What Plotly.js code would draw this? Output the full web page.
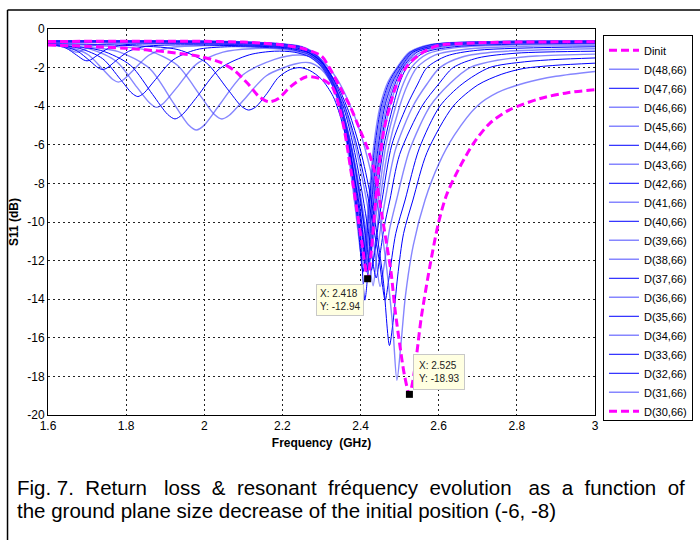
<!DOCTYPE html>
<html><head><meta charset="utf-8">
<script src="https://cdn.plot.ly/plotly-3.0.1.min.js"></script>
<style>html,body{margin:0;padding:0;background:#fff;}#chart{width:700px;height:540px;}</style>
</head><body><div id="chart"></div>
<script>
// ---------- axis ticks ----------
const freqTicks = [1.6, 1.8, 2, 2.2, 2.4, 2.6, 2.8, 3];
const freqTickText = ['1.6', '1.8', '2', '2.2', '2.4', '2.6', '2.8', '3'];
const s11Ticks = [0, -2, -4, -6, -8, -10, -12, -14, -16, -18, -20];
const s11TickText = ['0', '-2', '-4', '-6', '-8', '-10', '-12', '-14', '-16', '-18', '-20'];

// ---------- series (frequency GHz, S11 dB) ----------
const fDinit = [1.6,1.7,1.8,1.9,1.99,2.04,2.075,2.11,2.14,2.165,2.19,2.22,2.262,2.30,2.326,2.345,2.36,2.375,2.39,2.405,2.418,2.426,2.434,2.445,2.46,2.475,2.49,2.52,2.56,2.6,2.7,2.8,3.0];
const sDinit = [-0.83,-0.9,-1.0,-1.18,-1.43,-1.72,-2.12,-2.8,-3.5,-3.77,-3.6,-3.0,-2.47,-2.6,-2.95,-4.0,-5.4,-7.3,-9.3,-11.3,-12.94,-11.8,-10.0,-7.5,-5.2,-4.0,-3.0,-1.9,-1.2,-0.85,-0.72,-0.68,-0.66];

const fD48 = [1.6,1.8,2.0,2.1,2.2,2.25,2.285,2.31,2.34,2.362,2.38,2.393,2.404,2.411,2.416,2.421,2.434,2.45,2.47,2.493,2.525,2.58,2.75,3.0];
const sD48 = [-0.6,-0.6,-0.62,-0.66,-0.77,-0.92,-1.3,-2.0,-3.6,-5.6,-8.2,-10.4,-12.0,-11.1,-10.0,-8.86,-6.0,-4.0,-2.75,-2.0,-1.2,-0.8,-0.64,-0.6];
const fD47 = [1.6,1.8,2.0,2.1,2.2,2.25,2.285,2.315,2.345,2.366,2.383,2.395,2.406,2.413,2.418,2.423,2.437,2.453,2.473,2.495,2.528,2.585,2.75,3.0];
const sD47 = [-0.61,-0.61,-0.63,-0.67,-0.78,-0.93,-1.33,-2.15,-3.8,-5.8,-8.3,-10.5,-12.6,-11.6,-10.3,-8.86,-6.0,-4.0,-2.75,-2.0,-1.2,-0.8,-0.65,-0.62];
const fD46 = [1.6,1.8,2.0,2.1,2.2,2.25,2.29,2.32,2.35,2.37,2.385,2.397,2.408,2.415,2.42,2.425,2.44,2.456,2.476,2.497,2.53,2.59,2.75,3.0];
const sD46 = [-0.62,-0.62,-0.64,-0.68,-0.79,-0.95,-1.4,-2.25,-3.9,-5.9,-8.3,-10.3,-11.6,-10.8,-9.9,-8.86,-6.0,-4.0,-2.75,-2.0,-1.2,-0.82,-0.66,-0.63];
const fD45 = [1.6,1.8,2.0,2.1,2.2,2.25,2.29,2.32,2.35,2.37,2.387,2.399,2.41,2.417,2.422,2.427,2.443,2.459,2.479,2.5,2.532,2.59,2.75,3.0];
const sD45 = [-0.63,-0.63,-0.65,-0.7,-0.8,-0.96,-1.42,-2.3,-3.9,-5.9,-8.5,-10.6,-12.3,-11.3,-10.1,-8.86,-6.0,-4.0,-2.75,-2.0,-1.2,-0.83,-0.67,-0.64];
const fD44 = [1.6,1.8,2.0,2.1,2.2,2.25,2.29,2.32,2.35,2.37,2.388,2.4,2.411,2.418,2.424,2.429,2.446,2.462,2.482,2.503,2.535,2.6,2.75,3.0];
const sD44 = [-0.64,-0.64,-0.66,-0.71,-0.82,-0.98,-1.45,-2.35,-3.95,-6.0,-8.7,-11.0,-14.05,-12.8,-10.8,-8.86,-6.0,-4.0,-2.75,-2.0,-1.2,-0.84,-0.69,-0.65];
const fD43 = [1.6,1.8,2.0,2.1,2.2,2.25,2.29,2.32,2.35,2.372,2.39,2.403,2.413,2.42,2.426,2.431,2.449,2.466,2.486,2.505,2.54,2.6,2.75,3.0];
const sD43 = [-0.66,-0.66,-0.69,-0.74,-0.85,-1.02,-1.5,-2.4,-4.0,-6.3,-8.8,-10.6,-11.8,-11.0,-9.9,-8.86,-6.0,-4.0,-2.75,-2.0,-1.2,-0.86,-0.71,-0.67];
const fD42 = [1.6,1.8,2.0,2.1,2.2,2.25,2.29,2.32,2.35,2.373,2.392,2.405,2.415,2.423,2.429,2.434,2.452,2.47,2.49,2.508,2.545,2.61,2.75,3.0];
const sD42 = [-0.68,-0.68,-0.71,-0.76,-0.88,-1.05,-1.55,-2.45,-4.0,-6.2,-8.8,-10.8,-12.6,-11.6,-10.2,-8.86,-6.0,-4.0,-2.75,-2.0,-1.2,-0.88,-0.73,-0.69];
const fD41 = [1.6,1.8,2.0,2.1,2.2,2.25,2.29,2.32,2.35,2.375,2.395,2.407,2.417,2.425,2.431,2.437,2.455,2.475,2.495,2.512,2.55,2.62,2.75,3.0];
const sD41 = [-0.7,-0.7,-0.74,-0.8,-0.92,-1.1,-1.6,-2.5,-4.0,-6.2,-8.7,-10.6,-12.0,-11.2,-10.0,-8.86,-6.0,-4.0,-2.75,-2.0,-1.25,-0.9,-0.76,-0.71];
const fD40 = [1.6,1.8,1.933,2.005,2.059,2.095,2.113,2.131,2.16,2.19,2.22,2.245,2.27,2.30,2.33,2.355,2.378,2.398,2.419,2.427,2.433,2.44,2.46,2.483,2.50,2.518,2.56,2.64,3.0];
const sD40 = [-0.76,-0.85,-1.07,-1.75,-3.1,-4.0,-4.2,-4.05,-3.35,-2.5,-2.1,-2.0,-2.15,-2.6,-3.5,-5.0,-7.0,-9.3,-12.5,-11.5,-10.3,-8.86,-6.0,-4.0,-2.8,-2.0,-1.25,-0.92,-0.74];
const fD39 = [1.6,1.75,1.855,1.931,1.988,2.026,2.045,2.064,2.102,2.159,2.235,2.27,2.30,2.33,2.355,2.378,2.397,2.41,2.42,2.428,2.436,2.445,2.465,2.49,2.51,2.53,2.57,2.65,3.0];
const sD39 = [-0.78,-0.88,-1.11,-1.88,-3.4,-4.43,-4.66,-4.47,-3.65,-2.42,-1.8,-1.75,-2.1,-3.0,-4.4,-6.3,-8.4,-10.3,-12.2,-11.5,-10.2,-8.86,-6.0,-4.0,-2.8,-2.0,-1.3,-0.95,-0.78];
const fD38 = [1.6,1.7,1.78,1.86,1.92,1.96,1.98,2.0,2.04,2.1,2.18,2.24,2.275,2.30,2.33,2.355,2.378,2.395,2.41,2.423,2.432,2.441,2.45,2.47,2.5,2.52,2.544,2.59,2.68,3.0];
const sD38 = [-0.84,-0.95,-1.17,-2.05,-3.8,-4.97,-5.23,-4.98,-3.9,-2.36,-1.57,-1.35,-1.45,-1.9,-2.9,-4.3,-6.3,-8.3,-10.4,-12.9,-12.0,-10.5,-8.86,-6.3,-4.0,-2.9,-2.0,-1.35,-1.02,-0.85];
const fD37 = [1.6,1.735,1.811,1.868,1.906,1.925,1.944,1.982,2.039,2.115,2.18,2.23,2.27,2.30,2.33,2.355,2.378,2.397,2.412,2.427,2.436,2.445,2.455,2.48,2.518,2.545,2.57,2.62,2.7,3.0];
const sD37 = [-0.82,-1.11,-1.88,-3.4,-4.42,-4.66,-4.43,-3.5,-2.06,-1.34,-1.15,-1.2,-1.45,-1.95,-3.0,-4.4,-6.3,-8.5,-10.6,-12.5,-11.6,-10.2,-8.86,-6.0,-4.0,-2.9,-2.0,-1.4,-1.1,-0.92];
const fD36 = [1.6,1.708,1.776,1.827,1.861,1.878,1.895,1.929,1.98,2.048,2.12,2.2,2.25,2.29,2.32,2.35,2.375,2.395,2.414,2.432,2.44,2.45,2.463,2.49,2.534,2.57,2.603,2.66,2.75,3.0];
const sD36 = [-0.82,-1.04,-1.7,-3.0,-3.85,-4.06,-3.86,-3.05,-1.82,-1.2,-1.02,-1.05,-1.25,-1.75,-2.6,-4.0,-5.9,-8.0,-10.5,-13.3,-12.0,-10.5,-8.86,-6.2,-4.0,-2.85,-2.0,-1.45,-1.18,-1.02];
const fD35 = [1.6,1.68,1.74,1.785,1.815,1.83,1.845,1.875,1.92,1.98,2.06,2.15,2.22,2.27,2.30,2.33,2.36,2.385,2.405,2.42,2.44,2.449,2.46,2.475,2.5,2.557,2.6,2.637,2.7,2.8,3.0];
const sD35 = [-0.8,-1.0,-1.54,-2.6,-3.33,-3.5,-3.33,-2.62,-1.6,-1.07,-0.92,-0.95,-1.05,-1.35,-1.85,-2.8,-4.3,-6.4,-8.6,-10.5,-12.9,-11.8,-10.3,-8.86,-6.5,-4.0,-2.85,-2.0,-1.5,-1.25,-1.15];
const fD34 = [1.6,1.65,1.702,1.741,1.767,1.78,1.793,1.819,1.858,1.91,2.0,2.1,2.18,2.24,2.29,2.32,2.35,2.38,2.405,2.425,2.438,2.45,2.46,2.474,2.492,2.525,2.578,2.63,2.68,2.75,2.85,3.0];
const sD34 = [-0.8,-0.92,-1.32,-2.1,-2.63,-2.75,-2.63,-2.12,-1.36,-0.97,-0.86,-0.88,-0.95,-1.1,-1.6,-2.4,-3.6,-5.5,-7.8,-10.0,-11.7,-13.35,-12.3,-10.4,-8.86,-6.3,-4.0,-2.8,-2.0,-1.62,-1.4,-1.3];
const fD33 = [1.6,1.63,1.674,1.707,1.729,1.74,1.751,1.773,1.806,1.85,1.95,2.05,2.15,2.22,2.27,2.30,2.33,2.36,2.39,2.415,2.433,2.448,2.463,2.472,2.49,2.514,2.55,2.603,2.66,2.73,2.82,2.9,3.0];
const sD33 = [-0.78,-0.86,-1.13,-1.65,-2.02,-2.1,-2.02,-1.66,-1.16,-0.9,-0.82,-0.85,-0.9,-1.0,-1.25,-1.7,-2.6,-4.0,-6.0,-8.3,-10.3,-12.0,-14.05,-13.0,-10.6,-8.86,-6.2,-4.0,-2.85,-2.0,-1.7,-1.58,-1.5];
const fD32 = [1.6,1.646,1.673,1.691,1.70,1.709,1.727,1.754,1.79,1.9,2.0,2.1,2.2,2.25,2.30,2.34,2.37,2.40,2.425,2.443,2.458,2.474,2.483,2.495,2.51,2.534,2.57,2.637,2.7,2.76,2.816,2.9,3.0];
const sD32 = [-0.77,-0.99,-1.35,-1.6,-1.65,-1.6,-1.35,-1.01,-0.83,-0.76,-0.77,-0.82,-0.92,-1.05,-1.7,-2.9,-4.3,-6.3,-8.6,-10.8,-13.0,-16.4,-15.2,-12.8,-10.6,-8.86,-6.4,-4.0,-2.9,-2.35,-2.05,-1.88,-1.77];
const fD31 = [1.6,1.632,1.653,1.667,1.674,1.681,1.695,1.716,1.744,1.85,2.0,2.1,2.2,2.25,2.30,2.34,2.37,2.40,2.425,2.445,2.46,2.472,2.483,2.493,2.503,2.515,2.535,2.565,2.6,2.64,2.698,2.75,2.82,2.9,3.0];
const sD31 = [-0.75,-0.85,-1.03,-1.17,-1.2,-1.17,-1.04,-0.87,-0.78,-0.74,-0.75,-0.8,-0.9,-1.0,-1.6,-2.6,-3.8,-5.4,-7.3,-9.3,-11.3,-13.3,-15.6,-18.2,-16.4,-13.8,-11.2,-8.86,-7.0,-5.5,-4.0,-3.3,-2.8,-2.45,-2.2];

const fD30 = [1.6,1.8,2.0,2.1,2.15,2.2,2.25,2.30,2.32,2.347,2.373,2.40,2.42,2.437,2.455,2.468,2.478,2.488,2.50,2.512,2.525,2.534,2.544,2.555,2.58,2.60,2.62,2.65,2.69,2.73,2.78,2.86,2.93,3.0];
const sD30 = [-0.65,-0.63,-0.64,-0.68,-0.74,-0.83,-1.0,-1.4,-2.0,-3.0,-4.0,-5.3,-6.3,-7.5,-9.7,-11.3,-12.6,-14.5,-16.3,-17.9,-18.93,-18.2,-16.8,-15.0,-12.0,-10.0,-8.6,-7.3,-5.9,-4.9,-4.2,-3.6,-3.3,-3.15];

const blueNames = ['D(48,66)','D(47,66)','D(46,66)','D(45,66)','D(44,66)','D(43,66)','D(42,66)','D(41,66)','D(40,66)','D(39,66)','D(38,66)','D(37,66)','D(36,66)','D(35,66)','D(34,66)','D(33,66)','D(32,66)','D(31,66)'];
const blueFreq = [fD48,fD47,fD46,fD45,fD44,fD43,fD42,fD41,fD40,fD39,fD38,fD37,fD36,fD35,fD34,fD33,fD32,fD31];
const blueS11 = [sD48,sD47,sD46,sD45,sD44,sD43,sD42,sD41,sD40,sD39,sD38,sD37,sD36,sD35,sD34,sD33,sD32,sD31];
const blueLight = [1,0,1,1,0,1,0,1,0,1,1,0,1,0,1,0,0,1];

// data tips
const tipFreq = [2.418, 2.525];
const tipS11 = [-12.94, -18.93];

// caption
const captionLine1 = 'Fig.\u00a07.\u00a0\u00a0Return\u00a0\u00a0\u00a0loss\u00a0\u00a0&\u00a0\u00a0resonant\u00a0\u00a0fréquency\u00a0\u00a0evolution\u00a0\u00a0\u00a0as\u00a0\u00a0a\u00a0\u00a0function\u00a0\u00a0of';
const captionLine2 = 'the ground plane size decrease of the initial position (-6, -8)';

const FONT = '"Liberation Sans", Arial, sans-serif';

const traces = [];
blueNames.forEach((nm, i) => {
  traces.push({
    type: 'scatter', mode: 'lines', name: nm,
    x: blueFreq[i], y: blueS11[i],
    line: blueLight[i] ? {color: 'rgba(60,60,255,0.62)', width: 1.4, shape: 'spline', smoothing: 0.8}
                       : {color: '#0000ff', width: 1, shape: 'spline', smoothing: 0.8},
    legendrank: 2 + i, hoverinfo: 'skip'
  });
});
traces.push({type:'scatter', mode:'lines', name:'D(30,66)', x:fD30, y:sD30,
  line:{color:'#ff00ff', width:3, dash:'8px,4px', shape:'spline', smoothing:0.8}, legendrank: 40, hoverinfo:'skip'});
traces.push({type:'scatter', mode:'lines', name:'Dinit', x:fDinit, y:sDinit,
  line:{color:'#ff00ff', width:3, dash:'8px,4px', shape:'spline', smoothing:0.8}, legendrank: 1, hoverinfo:'skip'});
traces.push({type:'scatter', mode:'markers', x:tipFreq, y:tipS11, showlegend:false, hoverinfo:'skip',
  marker:{symbol:'square', size:7, color:'#000'}});

const axisCommon = {
  showgrid: true, gridcolor: '#222', gridwidth: 1, griddash: '2px,3px',
  showline: true, linecolor: '#000', linewidth: 1, mirror: true,
  zeroline: false, ticks: '', tickfont: {family: FONT, size: 12, color: '#000'}
};

const layout = {
  width: 700, height: 540,
  margin: {l: 48, r: 105, t: 29, b: 125, autoexpand: false},
  paper_bgcolor: '#fff', plot_bgcolor: '#fff',
  showlegend: true,
  xaxis: Object.assign({}, axisCommon, {
    range: [1.6, 3], tickmode: 'array', tickvals: freqTicks, ticktext: freqTickText,
    title: {text: '<b>Frequency  (GHz)</b>', font: {family: FONT, size: 12, color: '#000'}, standoff: 6}
  }),
  yaxis: Object.assign({}, axisCommon, {
    range: [-20, 0], tickmode: 'array', tickvals: s11Ticks, ticktext: s11TickText,
    title: {text: '<b>S11 (dB)</b>', font: {family: FONT, size: 12, color: '#000'}, standoff: 6}
  }),
  legend: {
    x: 1.0146, y: 0.985, xanchor: 'left', yanchor: 'top',
    bgcolor: '#fff', bordercolor: '#000', borderwidth: 1,
    font: {family: FONT, size: 11, color: '#000'}, traceorder: 'normal', itemwidth: 30
  },
  annotations: [
    {xref:'x', yref:'y', x: tipFreq[0], y: tipS11[0], showarrow:false, xanchor:'right', yanchor:'top',
     xshift:-4, yshift:-5, align:'left', text: 'X: ' + tipFreq[0] + '<br>Y: ' + tipS11[0],
     font:{family: FONT, size: 10, color:'#222'}, bgcolor:'#ffffe1', bordercolor:'#c8c8c8', borderwidth:1, borderpad:3},
    {xref:'x', yref:'y', x: tipFreq[1], y: tipS11[1], showarrow:false, xanchor:'left', yanchor:'bottom',
     xshift:4, yshift:4, align:'left', text: 'X: ' + tipFreq[1] + '<br>Y: ' + tipS11[1],
     font:{family: FONT, size: 10, color:'#222'}, bgcolor:'#ffffe1', bordercolor:'#c8c8c8', borderwidth:1, borderpad:5},
    {xref:'paper', yref:'paper', x: -0.06, y: -0.1891, xanchor:'left', yanchor:'middle', showarrow:false, align:'left',
     text: captionLine1, font:{family: FONT, size: 20.5, color:'#000'}},
    {xref:'paper', yref:'paper', x: -0.06, y: -0.2487, xanchor:'left', yanchor:'middle', showarrow:false, align:'left',
     text: captionLine2, font:{family: FONT, size: 20.5, color:'#000'}}
  ],
  shapes: [
    {type:'line', xref:'paper', yref:'paper', x0:-0.074, x1:-0.074, y0:-0.33, y1:1.049, line:{color:'#000', width:1.5}},
    {type:'line', xref:'paper', yref:'paper', x0:-0.074, x1:1.2, y0:1.049, y1:1.049, line:{color:'#000', width:1.5}}
  ]
};

Plotly.newPlot('chart', traces, layout, {staticPlot: true, displayModeBar: false});
</script></body></html>
